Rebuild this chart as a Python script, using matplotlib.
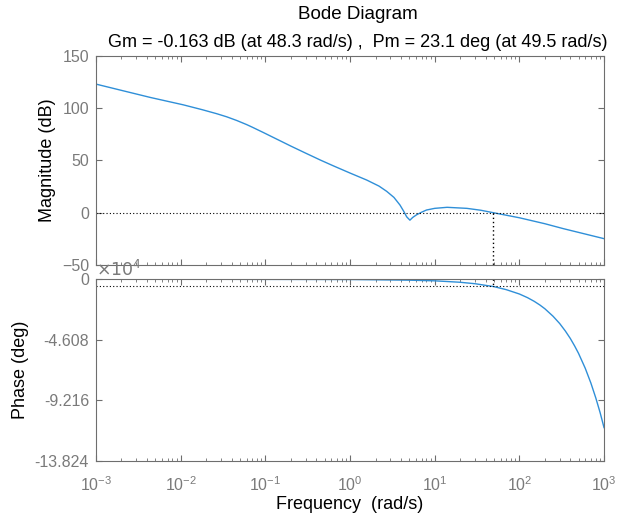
import numpy as np
import matplotlib.pyplot as plt
from matplotlib.ticker import FixedLocator, NullFormatter

plt.rcParams['font.family'] = ['Liberation Sans', 'DejaVu Sans']

# magnitude response (dB)
mag_freq = [0.001, 0.002, 0.0044, 0.0107, 0.018, 0.0266, 0.035, 0.0459, 0.06,
            0.07, 0.0946, 0.15, 0.2, 0.3, 0.45, 0.635, 1.0, 1.574, 2.2, 2.71,
            3.3, 3.89, 4.3, 4.67, 5.1, 5.5, 6.1, 7.0, 8.0, 10.0, 14.0, 24.0,
            35.0, 49.5, 100.0, 200.0, 330.0, 1000.0]
mag_db = [123.1, 117.1, 110.3, 103.3, 98.6, 94.8, 91.8, 88.3, 84.4,
          81.9, 76.8, 68.8, 63.8, 57.0, 50.3, 44.9, 38.0, 31.3, 25.5, 20.5,
          14.7, 7.4, 1.5, -3.9, -7.1, -4.5, -2.0, 0.5, 2.6, 4.2, 5.2, 4.2,
          2.4, 0.0, -4.8, -10.5, -15.2, -24.8]

# phase response (x1e4 deg)
ph_freq = [0.001, 0.01, 0.1, 1.0, 2.0, 5.0, 10.0, 20.0, 30.0, 50.0, 70.0, 100.0,
           125.0, 150.0, 175.0, 200.0, 250.0, 300.0, 350.0, 400.0, 450.0, 500.0,
           600.0, 700.0, 800.0, 900.0, 1000.0]
ph_deg = [-0.02, -0.02, -0.03, -0.04, -0.06, -0.09, -0.14, -0.25, -0.36, -0.58,
          -0.81, -1.14, -1.42, -1.70, -1.98, -2.26, -2.83, -3.39, -3.96, -4.52,
          -5.09, -5.65, -6.78, -7.91, -9.04, -10.16, -11.29]

gm_freq = 48.3
pm_freq = 49.5
ph_cross = -0.558
freq_ticks = [1e-3, 1e-2, 1e-1, 1e0, 1e1, 1e2, 1e3]
ph_ticks = [0, -4.608, -9.216, -13.824]
ph_ticklabels = ['0', '-4.608', '-9.216', '-13.824']

line_c = '#2f8fd8'
axis_c = '#6e6e6e'
label_c = '#7a7a7a'

fig = plt.figure(figsize=(6.19, 5.2), dpi=100)
ax1 = fig.add_axes([0.1551, 0.4904, 0.8207, 0.4019])
ax2 = fig.add_axes([0.1551, 0.1135, 0.8207, 0.35])

minor = [d * m for d in freq_ticks[:-1] for m in range(2, 10)]
for ax in (ax1, ax2):
    ax.set_xscale('log')
    ax.set_xlim(1e-3, 1e3)
    ax.set_xticks(freq_ticks)
    ax.xaxis.set_minor_locator(FixedLocator(minor))
    ax.xaxis.set_minor_formatter(NullFormatter())
    ax.tick_params(which='both', direction='in', top=True, right=True,
                   colors=axis_c, labelcolor=label_c, labelsize=11.5)
    ax.tick_params(which='major', length=4)
    ax.tick_params(which='minor', length=2)
    ax.tick_params(axis='y', pad=5)
    ax.tick_params(axis='x', which='major', pad=10)
    for s in ax.spines.values():
        s.set_color(axis_c)
        s.set_linewidth(0.8)

# magnitude
ax1.plot(mag_freq, mag_db, color=line_c, lw=1.0)
ax1.axhline(0, color='black', ls=(0, (1, 2)), lw=0.8)
ax1.plot([gm_freq, gm_freq], [0, -50], color='black', ls=(0, (1, 2)), lw=1.0)
ax1.set_ylim(-50, 150)
ax1.set_yticks([-50, 0, 50, 100, 150])
ax1.tick_params(labelbottom=False)
ax1.set_ylabel('Magnitude (dB)', fontsize=13, color='black', labelpad=4)

# phase
ax2.plot(ph_freq, ph_deg, color=line_c, lw=1.0)
ax2.axhline(ph_cross, color='black', ls=(0, (1, 2)), lw=0.8)
ax2.plot([pm_freq, pm_freq], [0, ph_cross], color='black', ls=(0, (1, 2)), lw=1.0)
ax2.set_ylim(-13.824, 0)
ax2.set_yticks(ph_ticks)
ax2.set_yticklabels(ph_ticklabels)
ax2.set_ylabel('Phase (deg)', fontsize=13, color='black', labelpad=4)
ax2.set_xlabel('Frequency  (rad/s)', fontsize=13, color='black', labelpad=2)
ax2.text(0.0, 1.0, r'$\times10^4$', transform=ax2.transAxes, color=label_c,
         fontsize=12.5, ha='left', va='bottom')

fig.text(0.578, 0.972, 'Bode Diagram', ha='center', va='center', fontsize=13.5)
fig.text(0.578, 0.919, 'Gm = -0.163 dB (at 48.3 rad/s) ,  Pm = 23.1 deg (at 49.5 rad/s)',
         ha='center', va='center', fontsize=13)

fig.savefig('out.png', dpi=100)
